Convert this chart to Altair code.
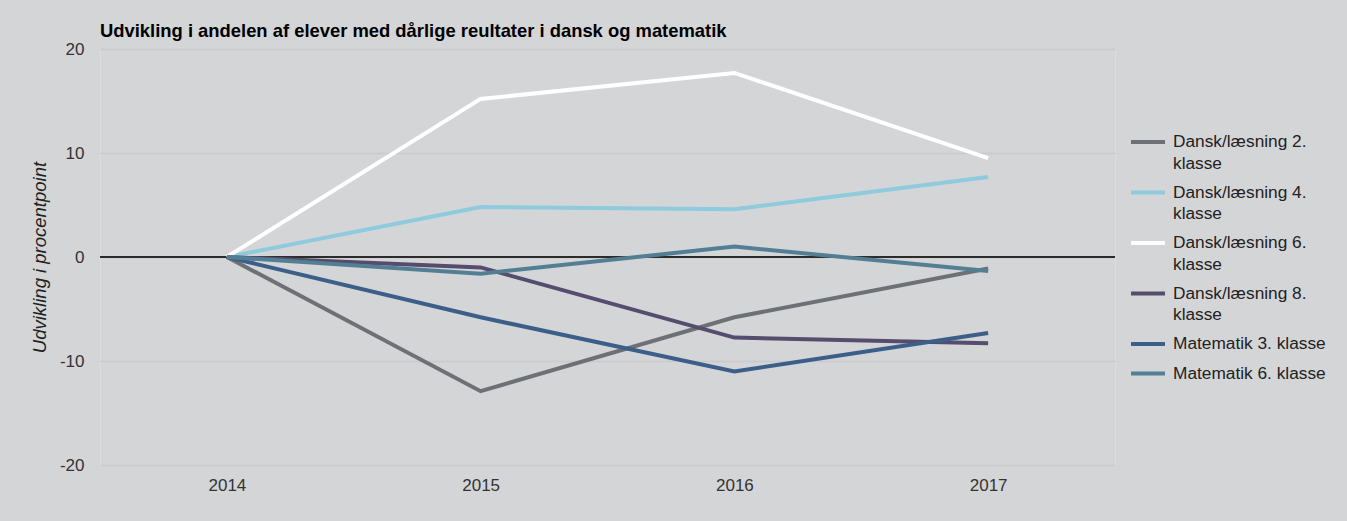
import altair as alt
import pandas as pd

years = ["2014", "2015", "2016", "2017"]
series_names = [
    "Dansk/læsning 2. klasse",
    "Dansk/læsning 4. klasse",
    "Dansk/læsning 6. klasse",
    "Dansk/læsning 8. klasse",
    "Matematik 3. klasse",
    "Matematik 6. klasse",
]
dansk2 = [0, -12.9, -5.8, -1.1]
dansk4 = [0, 4.8, 4.6, 7.7]
dansk6 = [0, 15.2, 17.7, 9.5]
dansk8 = [0, -1.0, -7.75, -8.3]
mat3 = [0, -5.8, -11.0, -7.3]
mat6 = [0, -1.6, 1.0, -1.35]
colors = ["#6d7175", "#8ecbdc", "#ffffff", "#564c6e", "#3b5f88", "#527f93"]

rows = []
for name, vals in zip(series_names, [dansk2, dansk4, dansk6, dansk8, mat3, mat6]):
    for y, v in zip(years, vals):
        rows.append({"year": y, "value": v, "series": name})
df = pd.DataFrame(rows)
zero_df = pd.DataFrame({"y": [0]})

FONT = "Liberation Sans"

lines = alt.Chart(df).mark_line(strokeWidth=4).encode(
    x=alt.X("year:O", title=None, scale=alt.Scale(padding=0.5),
            axis=alt.Axis(labelAngle=0, domain=False, ticks=False, labelPadding=12,
                          labelFontSize=17, labelColor="#333333", labelFont=FONT)),
    y=alt.Y("value:Q", title="Udvikling i procentpoint",
            scale=alt.Scale(domain=[-20, 20]),
            axis=alt.Axis(values=[-20, -10, 0, 10, 20], domain=False, ticks=False,
                          labelExpr="'' + datum.value",
                          labelPadding=16, labelFontSize=17, labelColor="#333333",
                          labelFont=FONT, grid=True, gridColor="#c9cacc", gridWidth=1.5,
                          titleFont=FONT, titleFontSize=18.5, titleFontStyle="italic",
                          titleFontWeight="normal", titleColor="#222222", titlePadding=10)),
    color=alt.Color("series:N", scale=alt.Scale(domain=series_names, range=colors),
                    legend=alt.Legend(
                        title=None, orient="none", legendX=1029, legendY=74,
                        symbolType="stroke", symbolSize=1156, symbolStrokeWidth=4,
                        labelFontSize=17.3, labelFont=FONT, labelColor="#222222",
                        labelOffset=6, rowPadding=1.5, labelLimit=300,
                        labelExpr="indexof(datum.label, 'Dansk') == 0 ? [slice(datum.label, 0, 16), slice(datum.label, 17)] : datum.label",
                    )),
)

zero = alt.Chart(zero_df).mark_rule(color="#2b2b2b", strokeWidth=2).encode(y="y:Q")

chart = alt.layer(zero, lines).properties(
    width=1015,
    height=416,
    background="#d4d5d7",
    padding={"left": 100, "top": 49, "right": 232, "bottom": 56},
    autosize=alt.AutoSizeParams(type="none"),
    title=alt.TitleParams(
        "Udvikling i andelen af elever med dårlige reultater i dansk og matematik",
        anchor="start", frame="group", font=FONT, fontSize=18.4, fontWeight="bold",
        color="#000000", offset=0,
    ),
).configure_view(stroke=None).configure(style={"guide-label": {"lineHeight": 21.5}})

chart.save("out.html", embed_options={"renderer": "svg", "actions": False})
